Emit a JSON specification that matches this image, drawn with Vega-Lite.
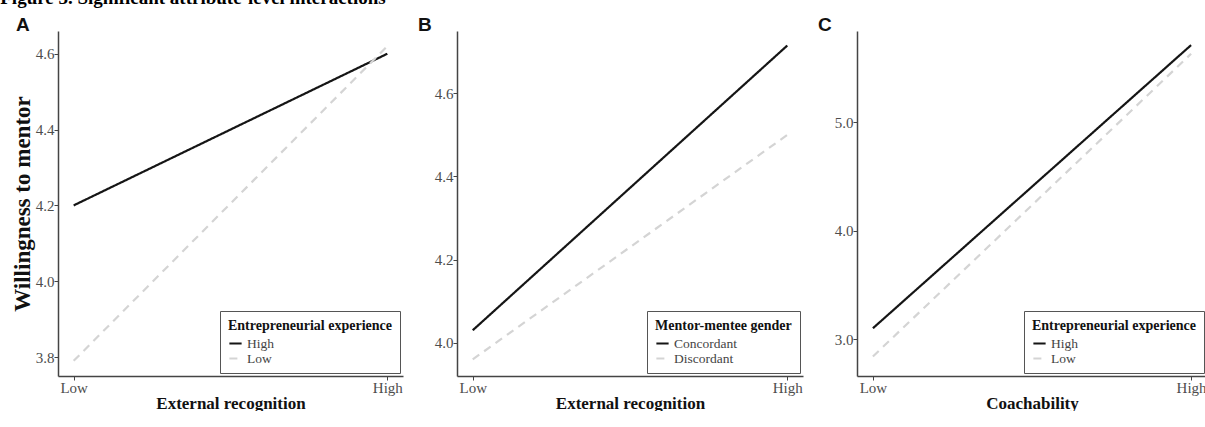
{
  "$schema": "https://vega.github.io/schema/vega-lite/v6.json",
  "padding": {"left": 0, "top": -11, "right": 0, "bottom": 0},
  "title": {"text": "Figure 3. Significant attribute-level interactions", "anchor": "start", "frame": "bounds", "dx": -11, "font": "Liberation Serif", "fontSize": 19, "fontWeight": "bold", "color": "#000", "offset": 8},
  "spacing": 15,
  "config": {
    "view": {"stroke": null},
    "axis": {"domainColor": "#444", "domainWidth": 1.5, "tickColor": "#444", "tickSize": 4, "labelFont": "Liberation Serif", "labelFontSize": 15, "labelColor": "#4d4d4d", "titleFont": "Liberation Serif", "titleFontSize": 17, "titleFontWeight": "bold", "titleColor": "#111", "grid": false, "labelPadding": 0, "titlePadding": 0},
    "legend": {"orient": "bottom-right", "offset": 3, "fillColor": "white", "strokeColor": "#555", "padding": 8, "titleFont": "Liberation Serif", "titleFontSize": 14, "titleFontWeight": "bold", "titleColor": "#111", "titlePadding": 3, "labelFont": "Liberation Serif", "labelFontSize": 13.5, "labelColor": "#444", "symbolType": "stroke", "symbolStrokeWidth": 2, "symbolSize": 150, "rowPadding": 1},
    "title": {"font": "Liberation Sans", "fontSize": 19, "fontWeight": "bold", "color": "#111", "anchor": "start", "frame": "group"}
  },
  "hconcat": [
    {
      "title": {"text": "A", "dx": -42, "offset": -19, "baseline": "alphabetic"},
      "width": 345, "height": 345,
      "data": {"values": [
        {"x": "Low", "group": "High", "value": 4.2},
        {"x": "High", "group": "High", "value": 4.6},
        {"x": "Low", "group": "Low", "value": 3.79},
        {"x": "High", "group": "Low", "value": 4.62}
      ]},
      "mark": {"type": "line", "strokeWidth": 2.2},
      "encoding": {
        "x": {"field": "x", "type": "ordinal", "sort": ["Low", "High"], "scale": {"type": "point", "padding": 0.05}, "axis": {"title": "External recognition", "labelAngle": 0}},
        "y": {"field": "value", "type": "quantitative", "scale": {"domain": [3.75, 4.66], "nice": false, "zero": false}, "axis": {"title": "Willingness to mentor", "titleFontSize": 23, "values": [3.8, 4.0, 4.2, 4.4, 4.6], "format": ".1f", "titlePadding": 1}},
        "color": {"field": "group", "type": "nominal", "sort": ["High", "Low"], "scale": {"domain": ["High", "Low"], "range": ["#151515", "#d4d4d4"]}, "legend": {"title": "Entrepreneurial experience\u00a0\u00a0\u00a0\u00a0\u00a0\u00a0\u00a0\u00a0\u00a0\u00a0"}},
        "strokeDash": {"field": "group", "type": "nominal", "sort": ["High", "Low"], "scale": {"domain": ["High", "Low"], "range": [[1, 0], [8, 6]]}, "legend": {"title": "Entrepreneurial experience\u00a0\u00a0\u00a0\u00a0\u00a0\u00a0\u00a0\u00a0\u00a0\u00a0"}}
      }
    },
    {
      "title": {"text": "B", "dx": -39, "offset": -19, "baseline": "alphabetic"},
      "width": 346, "height": 345,
      "data": {"values": [
        {"x": "Low", "group": "Concordant", "value": 4.03},
        {"x": "High", "group": "Concordant", "value": 4.715},
        {"x": "Low", "group": "Discordant", "value": 3.96},
        {"x": "High", "group": "Discordant", "value": 4.5}
      ]},
      "mark": {"type": "line", "strokeWidth": 2.2},
      "encoding": {
        "x": {"field": "x", "type": "ordinal", "sort": ["Low", "High"], "scale": {"type": "point", "padding": 0.05}, "axis": {"title": "External recognition", "labelAngle": 0}},
        "y": {"field": "value", "type": "quantitative", "scale": {"domain": [3.92, 4.75], "nice": false, "zero": false}, "axis": {"title": null, "values": [4.0, 4.2, 4.4, 4.6], "format": ".1f"}},
        "color": {"field": "group", "type": "nominal", "scale": {"domain": ["Concordant", "Discordant"], "range": ["#151515", "#d4d4d4"]}, "legend": {"title": "Mentor-mentee gender"}},
        "strokeDash": {"field": "group", "type": "nominal", "scale": {"domain": ["Concordant", "Discordant"], "range": [[1, 0], [8, 6]]}, "legend": {"title": "Mentor-mentee gender"}}
      }
    },
    {
      "title": {"text": "C", "dx": -39, "offset": -19, "baseline": "alphabetic"},
      "width": 350, "height": 345,
      "data": {"values": [
        {"x": "Low", "group": "High", "value": 3.1},
        {"x": "High", "group": "High", "value": 5.71},
        {"x": "Low", "group": "Low", "value": 2.84},
        {"x": "High", "group": "Low", "value": 5.63}
      ]},
      "mark": {"type": "line", "strokeWidth": 2.2},
      "encoding": {
        "x": {"field": "x", "type": "ordinal", "sort": ["Low", "High"], "scale": {"type": "point", "padding": 0.05}, "axis": {"title": "Coachability", "labelAngle": 0}},
        "y": {"field": "value", "type": "quantitative", "scale": {"domain": [2.66, 5.84], "nice": false, "zero": false}, "axis": {"title": null, "values": [3.0, 4.0, 5.0], "format": ".1f"}},
        "color": {"field": "group", "type": "nominal", "scale": {"domain": ["High", "Low"], "range": ["#151515", "#d4d4d4"]}, "legend": {"title": "Entrepreneurial experience\u00a0\u00a0\u00a0\u00a0\u00a0\u00a0\u00a0\u00a0\u00a0\u00a0"}},
        "strokeDash": {"field": "group", "type": "nominal", "scale": {"domain": ["High", "Low"], "range": [[1, 0], [8, 6]]}, "legend": {"title": "Entrepreneurial experience\u00a0\u00a0\u00a0\u00a0\u00a0\u00a0\u00a0\u00a0\u00a0\u00a0"}}
      }
    }
  ],
  "resolve": {"scale": {"color": "independent", "strokeDash": "independent", "y": "independent"}, "legend": {"color": "independent", "strokeDash": "independent"}}
}
